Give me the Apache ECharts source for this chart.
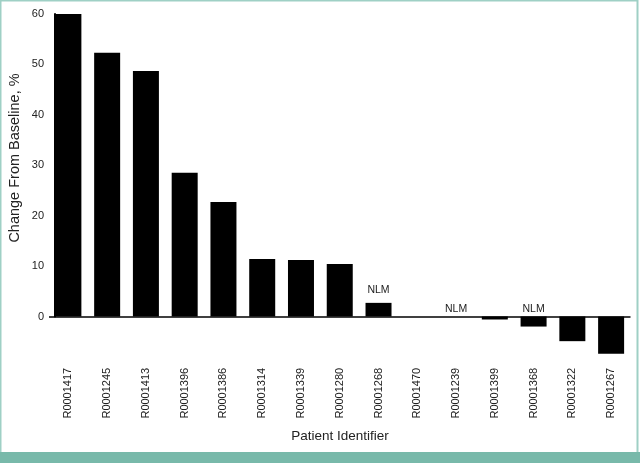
<!DOCTYPE html>
<html>
<head>
<meta charset="utf-8">
<script src="https://cdn.jsdelivr.net/npm/echarts@6/dist/echarts.min.js"></script>
<style>
html,body{margin:0;padding:0;background:#fff;}
#chart{width:640px;height:463px;}
</style>
</head>
<body>
<div id="chart"></div>
<script>
var patients = ['R0001417','R0001245','R0001413','R0001396','R0001386','R0001314','R0001339','R0001280','R0001268','R0001470','R0001239','R0001399','R0001368','R0001322','R0001267'];
var changes = [60, 52.3, 48.7, 28.5, 22.7, 11.4, 11.2, 10.4, 2.7, 0, 0, -0.6, -2.0, -4.9, -7.4];
var notes = ['', '', '', '', '', '', '', '', 'NLM', '', 'NLM', '', 'NLM', '', ''];
var yTicks = [0, 10, 20, 30, 40, 50, 60];

var font = "'Liberation Sans', Arial, Helvetica, sans-serif";

var barData = changes.map(function (v, i) {
  var item = { value: v };
  if (notes[i]) {
    item.label = {
      show: true,
      position: 'top',
      distance: v > 0 ? 7 : 2,
      formatter: notes[i],
      color: '#222',
      fontSize: 10.5,
      fontFamily: font
    };
  }
  return item;
});

var chart = echarts.init(document.getElementById('chart'));
chart.setOption({
  animation: false,
  backgroundColor: '#fff',
  grid: [
    { left: 55, top: 14, width: 575.5, height: 302.5, containLabel: false },
    { left: 49, top: 14, right: 9.5, height: 342.8, containLabel: false }
  ],
  xAxis: [
    { type: 'category', gridIndex: 0, data: patients, show: false },
    {
      type: 'category', gridIndex: 1, data: patients, position: 'bottom',
      axisLine: { show: false }, axisTick: { show: false },
      axisLabel: { rotate: 90, interval: 0, margin: 11, fontSize: 11, color: '#222', fontFamily: font }
    }
  ],
  yAxis: [
    {
      type: 'value', gridIndex: 0, min: yTicks[0], max: yTicks[yTicks.length - 1], interval: 10,
      axisLine: { show: true, lineStyle: { color: '#000', width: 2 } },
      axisTick: { show: false },
      splitLine: { show: false },
      axisLabel: { margin: 11, fontSize: 11, color: '#222', fontFamily: font }
    },
    {
      type: 'value', gridIndex: 1, min: -8, max: 60, show: false, splitLine: { show: false }
    }
  ],
  series: [
    {
      type: 'bar', xAxisIndex: 1, yAxisIndex: 1, data: barData,
      barWidth: 26,
      itemStyle: { color: '#000' },
      markLine: {
        silent: true, symbol: 'none', label: { show: false },
        lineStyle: { color: '#000', width: 1.5, type: 'solid' },
        data: [{ yAxis: 0 }]
      }
    }
  ],
  graphic: [
    { type: 'rect', shape: { x: 0.5, y: 0.5, width: 637, height: 462 }, style: { fill: 'none', stroke: '#9fd0c5', lineWidth: 2 }, silent: true },
    { type: 'rect', shape: { x: 0, y: 452, width: 640, height: 11 }, style: { fill: '#78b9aa' }, silent: true },
    { type: 'text', x: 340, y: 436, style: { text: 'Patient Identifier', fontSize: 13.5, fontFamily: font, fill: '#222', align: 'center', verticalAlign: 'middle' } },
    { type: 'text', x: 15, y: 158, rotation: Math.PI / 2, style: { text: 'Change From Baseline, %', fontSize: 14.5, fontFamily: font, fill: '#222', align: 'center', verticalAlign: 'middle' } }
  ]
});
</script>
</body>
</html>
